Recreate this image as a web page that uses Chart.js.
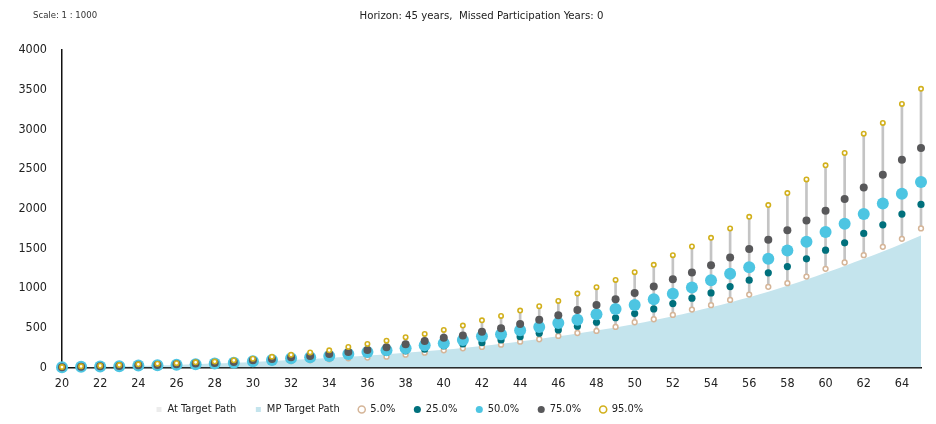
<!DOCTYPE html>
<html>
<head>
<meta charset="utf-8">
<script src="https://cdn.jsdelivr.net/npm/chart.js@4.4.1/dist/chart.umd.min.js"></script>
<style>
  html, body { margin: 0; padding: 0; background: #fff; }
  #wrap { width: 936px; height: 424px; }
</style>
</head>
<body>
<div id="wrap"><canvas id="chart"></canvas></div>
<script>
const FONT = "'Liberation Sans Narrow', 'DejaVu Sans Condensed', Arial, sans-serif";

const ages = [20, 21, 22, 23, 24, 25, 26, 27, 28, 29, 30, 31, 32, 33, 34, 35, 36, 37, 38, 39, 40, 41, 42,
              43, 44, 45, 46, 47, 48, 49, 50, 51, 52, 53, 54, 55, 56, 57, 58, 59, 60, 61, 62, 63, 64, 65];

const p5  = [0, 4, 7, 10, 15, 19, 24, 29, 35, 42, 55, 66, 80, 90, 103, 116, 126, 136, 162, 187, 217, 242, 259,
             288, 326, 356, 398, 435, 461, 511, 570, 608, 663, 730, 785, 852, 919, 1016, 1062, 1146, 1243, 1323, 1416, 1521, 1622, 1752];
const p25 = [1, 6, 10, 14, 20, 24, 30, 36, 43, 52, 68, 82, 100, 112, 127, 148, 170, 190, 210, 230, 271, 297, 313,
             347, 389, 432, 473, 520, 570, 627, 679, 738, 805, 873, 940, 1020, 1100, 1193, 1272, 1369, 1479, 1571, 1689, 1798, 1933, 2055];
const p50 = [2, 8, 12, 17, 24, 28, 35, 42, 50, 60, 80, 95, 116, 129, 145, 170, 196, 217, 242, 280, 305, 347, 394,
             419, 469, 511, 562, 603, 671, 738, 789, 860, 928, 1007, 1100, 1180, 1264, 1369, 1474, 1584, 1706, 1811, 1933, 2067, 2190, 2337];
const p75 = [3, 10, 15, 20, 27, 33, 40, 50, 57, 70, 90, 107, 129, 145, 170, 196, 221, 255, 293, 334, 376, 402, 452,
             495, 549, 603, 659, 726, 789, 860, 940, 1020, 1113, 1196, 1290, 1386, 1492, 1609, 1731, 1853, 1975, 2123, 2269, 2429, 2619, 2766];
const p95 = [5, 15, 22, 30, 40, 48, 55, 65, 75, 90, 110, 135, 160, 190, 217, 259, 297, 338, 381, 423, 473, 528, 595,
             650, 717, 772, 839, 931, 1012, 1104, 1201, 1294, 1416, 1525, 1634, 1752, 1899, 2047, 2198, 2370, 2547, 2703, 2947, 3082, 3321, 3511];

const mpTargetPath = [0, 4, 8, 13, 19, 26, 33, 41, 50, 60, 70, 81, 93, 106, 120, 135, 151, 168, 186, 205, 225, 247, 272,
                      300, 329, 360, 393, 428, 465, 505, 548, 595, 645, 700, 758, 820, 885, 955, 1030, 1110, 1195, 1280, 1370, 1463, 1560, 1662];
const atTargetPath = [];

const yTicks = { min: 0, max: 4000, step: 500 };
const xTicks = { min: 20, max: 65, step: 2 };

const titleText = 'Horizon: 45 years,  Missed Participation Years: 0';
const scaleText = 'Scale: 1 : 1000';

const toPoints = arr => arr.map((v, i) => ({ x: ages[i], y: v }));

function pointSet(label, values, fill, border, radius, borderWidth, order) {
    return {
        label,
        data: toPoints(values),
        showLine: false,
        backgroundColor: fill,
        borderColor: border,
        pointRadius: radius,
        pointHoverRadius: radius,
        borderWidth,
        pointStyle: 'circle',
        clip: false,
        order
    };
}

const headerPlugin = {
    id: 'header',
    afterLayout(chart) {
        // move the legend row and title to where the original has them
        const lg = chart.legend;
        lg.left = 137;
        lg.top = 385;
        lg.bottom = 424;
        lg.height = 39;
        chart.titleBlock.left = 42;
    },
    afterDraw(chart) {
        const ctx = chart.ctx;
        ctx.save();
        ctx.font = '9.5px ' + FONT;
        ctx.fillStyle = '#333';
        ctx.textBaseline = 'middle';
        ctx.textAlign = 'left';
        ctx.fillText(scaleText, 33, 16);
        ctx.restore();
    }
};

const ctx = document.getElementById('chart').getContext('2d');
new Chart(ctx, {
    type: 'line',
    data: {
        datasets: [
            {
                label: 'At Target Path',
                data: toPoints(atTargetPath),
                backgroundColor: '#ececec',
                borderColor: '#ececec',
                borderWidth: 0,
                pointRadius: 0,
                pointStyle: 'rect',
                fill: 'origin',
                order: 9
            },
            {
                label: 'MP Target Path',
                data: toPoints(mpTargetPath),
                backgroundColor: '#c4e4ed',
                borderColor: '#c4e4ed',
                borderWidth: 0,
                pointRadius: 0,
                pointStyle: 'rect',
                fill: 'origin',
                cubicInterpolationMode: 'monotone',
                order: 8
            },
            pointSet('5.0%', p5, '#ffffff', '#d5b598', 2.4, 1.5, 5),
            pointSet('25.0%', p25, '#00707c', '#00707c', 3.6, 0, 4),
            pointSet('50.0%', p50, '#4dc5e2', '#4dc5e2', 6, 0, 3),
            pointSet('75.0%', p75, '#58585a', '#58585a', 4, 0, 2),
            pointSet('95.0%', p95, '#ffffff', '#d2b01c', 2.2, 1.6, 1),
            {
                type: 'bar',
                label: 'range',
                data: ages.map((a, i) => ({ x: a, y: [p5[i], p95[i]] })),
                backgroundColor: '#c4c4c4',
                borderWidth: 0,
                barThickness: 2,
                grouped: false,
                clip: false,
                order: 7
            }
        ]
    },
    options: {
        responsive: true,
        maintainAspectRatio: false,
        animation: false,
        events: [],
        layout: {
            padding: { left: 0, right: 15, top: 0, bottom: 0 }
        },
        scales: {
            x: {
                type: 'linear',
                min: xTicks.min,
                max: xTicks.max,
                offset: false,
                grid: { display: false, drawTicks: false },
                border: { display: true, color: '#111', width: 1.5 },
                ticks: {
                    stepSize: xTicks.step,
                    includeBounds: false,
                    padding: 9,
                    color: '#222',
                    font: { family: FONT, size: 12.5 }
                },
                afterFit(scale) { scale.height = 24; }
            },
            y: {
                min: yTicks.min,
                max: yTicks.max,
                grid: { display: false, drawTicks: false },
                border: { display: true, color: '#111', width: 1.5 },
                ticks: {
                    stepSize: yTicks.step,
                    padding: 15,
                    color: '#222',
                    font: { family: FONT, size: 12.5 },
                    callback: v => String(v)
                },
                afterFit(scale) { scale.width = 62; }
            }
        },
        plugins: {
            title: {
                display: true,
                text: titleText,
                color: '#222',
                font: { family: FONT, size: 11.3, weight: 'normal' },
                padding: { top: 9, bottom: 27.5 }
            },
            legend: {
                position: 'bottom',
                align: 'start',
                maxHeight: 32.5,
                labels: {
                    usePointStyle: true,
                    boxWidth: 6,
                    boxHeight: 5,
                    padding: 19,
                    color: '#222',
                    font: { family: FONT, size: 11 },
                    filter: item => item.text !== 'range',
                    sort: (a, b) => a.datasetIndex - b.datasetIndex
                }
            },
            tooltip: { enabled: false }
        }
    },
    plugins: [headerPlugin]
});
</script>
</body>
</html>
